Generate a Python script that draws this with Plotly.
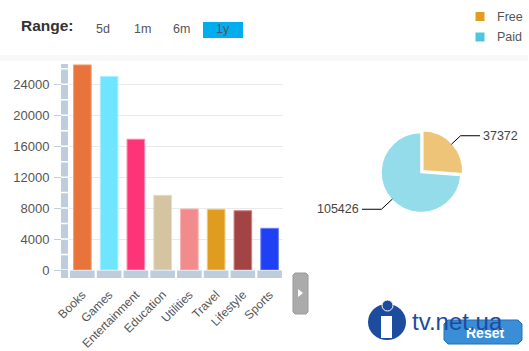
import math
import plotly.graph_objects as go

# ---------------- data ----------------
categories = ["Books", "Games", "Entertainment", "Education", "Utilities", "Travel", "Lifestyle", "Sports"]
downloads = [26500, 25000, 16900, 9650, 7880, 7840, 7660, 5390]
bar_colors = ["#E8743B", "#6FE5FF", "#FF3377", "#D4C4A2", "#F28B8C", "#E09C1F", "#A24444", "#2040F5"]
bar_edges = ["#F3A07A", "#A8F0FF", "#FF85B0", "#E8DCC3", "#F8B3B3", "#F0C878", "#C98585", "#6F83FA"]
y_ticks = [0, 4000, 8000, 12000, 16000, 20000, 24000]

pie_labels = ["Free", "Paid"]
pie_values = [37372, 105426]
pie_colors = ["#E39C1E", "#4EC5DE"]
pie_pull = [0.06, 0.0]

range_buttons = ["5d", "1m", "6m", "1y"]
selected_range = "1y"

# ---------------- helpers ----------------
W, H = 529, 351
def px(x):
    return x / W
def py(y):
    return 1 - y / H

FONT = "Liberation Sans, Arial, sans-serif"
TXT = "#555555"

PL, PR, PT, PB = 69, 283, 62.6, 270
YMAX = 26800

fig = go.Figure()
fig.add_trace(go.Bar(
    x=categories, y=downloads,
    marker=dict(color=bar_colors, line=dict(color=bar_edges, width=1)),
    width=0.66, showlegend=False, hoverinfo="x+y",
))

cx, cy, R = 421, 172.5, 40
maxpull = max(pie_pull)
half = R * (1 + maxpull)
def rgba(h, a):
    h = h.lstrip("#")
    return "rgba(%d,%d,%d,%g)" % (int(h[0:2], 16), int(h[2:4], 16), int(h[4:6], 16), a)

fig.add_trace(go.Pie(
    labels=pie_labels, values=pie_values, sort=False, direction="clockwise", rotation=0,
    marker=dict(colors=[rgba(c, 0.6) for c in pie_colors], line=dict(color="white", width=1.5)),
    pull=pie_pull, textinfo="none", showlegend=False,
    domain=dict(x=[px(cx - half), px(cx + half)], y=[py(cy + half), py(cy - half)]),
))

shapes = []
annotations = []

# faint header band
shapes.append(dict(type="rect", xref="paper", yref="paper", x0=0, x1=px(528), y0=py(61), y1=py(55),
                   fillcolor="#F8F8F8", line=dict(width=0), layer="below"))

# decorative strips along the axes
STRIP = "#BDCDDD"
shapes.append(dict(type="rect", xref="paper", yref="paper", x0=px(61), x1=px(68), y0=py(278), y1=py(64),
                   fillcolor=STRIP, line=dict(width=0), layer="above"))
for v in range(0, YMAX, 2000):
    shapes.append(dict(type="line", xref="paper", yref="y", x0=px(61), x1=px(68), y0=v, y1=v,
                       line=dict(color="white", width=1.5), layer="above"))
for i in range(len(categories)):
    shapes.append(dict(type="rect", xref="x", yref="paper", x0=i - 0.46, x1=i + 0.46,
                       y0=py(278), y1=py(270.5), fillcolor=STRIP, line=dict(width=0), layer="above"))

# pie leader lines + value labels (from slice mid-angles)
total = sum(pie_values)
start = 0.0
for lab, val, pl in zip(pie_labels, pie_values, pie_pull):
    frac = val / total
    mid = (start + frac / 2) * 2 * math.pi
    start += frac
    sx, sy = math.sin(mid), -math.cos(mid)
    r0 = R * (1 + pl) - 1
    ex, ey = cx + sx * r0, cy + sy * r0
    bx, by = cx + sx * (R + 14), cy + sy * (R + 14)
    side = 1 if sx >= 0 else -1
    tx = cx + side * 59
    shapes.append(dict(type="path", xref="paper", yref="paper",
                       path="M %f %f L %f %f L %f %f" % (px(ex), py(ey), px(bx), py(by), px(tx), py(by)),
                       line=dict(color="#000000", width=1)))
    annotations.append(dict(xref="paper", yref="paper", x=px(tx + side * 1), y=py(by), text=str(val),
                            showarrow=False, xanchor="left" if side > 0 else "right", yanchor="middle",
                            font=dict(family=FONT, size=12.5, color="#444444")))

# legend (manual)
for k, (lab, col) in enumerate(zip(pie_labels, pie_colors)):
    yc = 16.5 + k * 20.5
    shapes.append(dict(type="rect", xref="paper", yref="paper", x0=px(475.5), x1=px(484.5),
                       y0=py(yc + 4.5), y1=py(yc - 4.5), fillcolor=col, line=dict(width=0)))
    annotations.append(dict(xref="paper", yref="paper", x=px(495), y=py(yc), text=lab, showarrow=False,
                            xanchor="left", yanchor="middle", font=dict(family=FONT, size=12.5, color=TXT)))

# range selector
annotations.append(dict(xref="paper", yref="paper", x=px(18.5), y=py(25), text="<b>Range:</b>", showarrow=False,
                        xanchor="left", yanchor="middle", font=dict(family=FONT, size=15.5, color="#333333")))
btn_x = [103, 142, 181.5, 223]
for b, bxp in zip(range_buttons, btn_x):
    if b == selected_range:
        shapes.append(dict(type="rect", xref="paper", yref="paper", x0=px(203), x1=px(243),
                           y0=py(38), y1=py(22), fillcolor="#00AEEF", line=dict(width=0)))
    annotations.append(dict(xref="paper", yref="paper", x=px(bxp), y=py(29), text=b, showarrow=False,
                            xanchor="center", yanchor="middle", font=dict(family=FONT, size=12.5, color=TXT)))

# arrow (navigator) button
shapes.append(dict(type="path", xref="paper", yref="paper",
                   path="M %f %f L %f %f L %f %f L %f %f L %f %f L %f %f L %f %f L %f %f Z" % (
                       px(295), py(273), px(306), py(273), px(308), py(275), px(308), py(312),
                       px(306), py(314), px(295), py(314), px(293), py(312), px(293), py(275)),
                   fillcolor="#ABABAB", line=dict(color="#9A9A9A", width=1)))
shapes.append(dict(type="path", xref="paper", yref="paper",
                   path="M %f %f L %f %f L %f %f Z" % (px(298), py(289), px(298), py(297), px(303), py(293)),
                   fillcolor="white", line=dict(width=0)))

# reset button
shapes.append(dict(type="path", xref="paper", yref="paper",
                   path="M %f %f L %f %f L %f %f L %f %f L %f %f L %f %f L %f %f L %f %f Z" % (
                       px(448), py(320), px(518), py(320), px(522), py(324), px(522), py(340),
                       px(518), py(344), px(448), py(344), px(444), py(340), px(444), py(324)),
                   fillcolor="#3A8ED6", line=dict(color="#2470B8", width=1)))
annotations.append(dict(xref="paper", yref="paper", x=px(484.5), y=py(332.5), text="<b>Reset</b>", showarrow=False,
                        xanchor="center", yanchor="middle", font=dict(family=FONT, size=14, color="white")))

# watermark logo
LOGO = "#1D4B9E"
shapes.append(dict(type="circle", xref="paper", yref="paper", x0=px(368), x1=px(406), y0=py(340), y1=py(304),
                   fillcolor=LOGO, line=dict(width=0)))
shapes.append(dict(type="rect", xref="paper", yref="paper", x0=px(381), x1=px(392), y0=py(338), y1=py(316),
                   fillcolor="white", line=dict(width=0)))
shapes.append(dict(type="circle", xref="paper", yref="paper", x0=px(382), x1=px(393), y0=py(311), y1=py(300),
                   fillcolor=LOGO, line=dict(color="white", width=1)))
annotations.append(dict(xref="paper", yref="paper", x=px(410), y=py(321), text="tv.net.ua", showarrow=False,
                        xanchor="left", yanchor="middle", font=dict(family=FONT, size=24, color=LOGO)))

fig.update_layout(
    width=W, height=H, margin=dict(l=0, r=0, t=0, b=0, pad=0, autoexpand=False),
    paper_bgcolor="white", plot_bgcolor="white",
    font=dict(family=FONT, size=12, color=TXT),
    shapes=shapes, annotations=annotations,
    xaxis=dict(domain=[px(PL), px(PR)], tickangle=-45, ticks="outside", ticklen=6,
               tickcolor="rgba(0,0,0,0)", ticklabelstandoff=6, showgrid=False, zeroline=False,
               showline=False, tickfont=dict(size=12, color=TXT), fixedrange=True, automargin=False),
    yaxis=dict(domain=[py(PB), py(PT)], range=[0, YMAX], tickvals=y_ticks, tickformat="d",
               ticks="outside", ticklen=14, tickcolor="#C0D0E0", ticklabelstandoff=2,
               showgrid=True, gridcolor="#EAEAEA", zeroline=False, showline=False,
               tickfont=dict(size=13, color=TXT), fixedrange=True, automargin=False),
    bargap=0.34,
)

fig.write_html("out.html", post_script="document.body.style.margin='0';")
